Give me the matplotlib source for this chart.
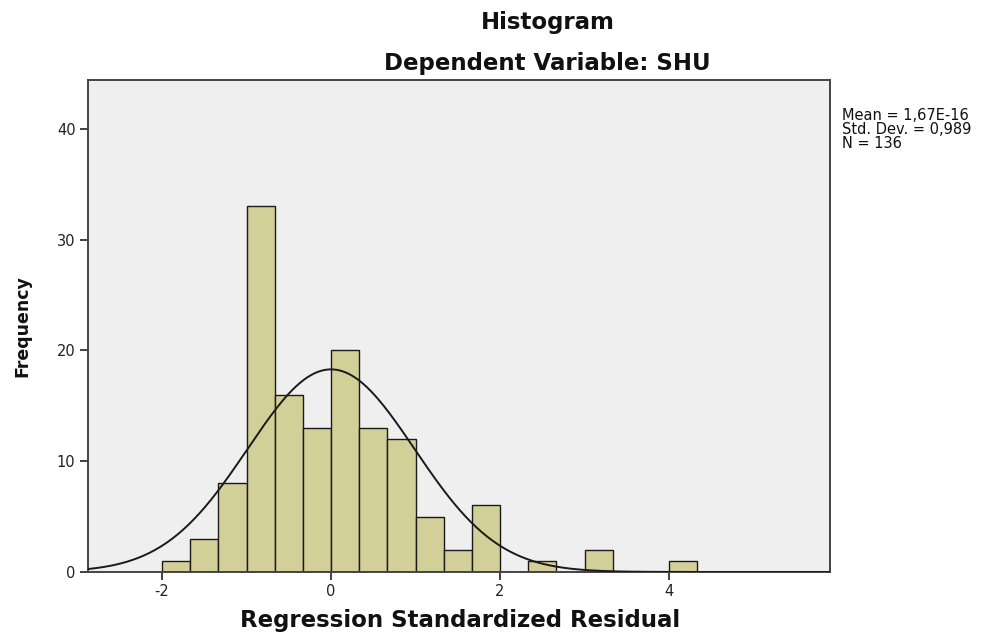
import numpy as np
import matplotlib.pyplot as plt

plt.rcParams["axes.unicode_minus"] = False

# histogram of regression standardized residuals (SPSS style)
bin_start = -2.0
bin_width = 1.0 / 3.0
counts = [1, 3, 8, 33, 16, 13, 20, 13, 12, 5, 2, 6, 0, 1, 0, 2, 0, 0, 1]

mean = 1.67e-16
std_dev = 0.989
n_obs = 136

x_ticks = [-2, 0, 2, 4]
y_ticks = [0, 10, 20, 30, 40]

bar_color = "#D3CF98"
bg_color = "#EFEFEF"

fig = plt.figure(figsize=(9.97, 6.33), dpi=100)
ax = fig.add_axes([0.0883, 0.0964, 0.7442, 0.7772])
ax.set_facecolor(bg_color)

lefts = bin_start + bin_width * np.arange(len(counts))
heights = np.array(counts)
keep = heights > 0
ax.bar(lefts[keep], heights[keep], width=bin_width, align="edge",
       color=bar_color, edgecolor="#1a1a1a", linewidth=1.0, zorder=2)

# fitted normal curve, scaled to counts
xs = np.linspace(-2.876, 5.905, 400)
pdf = np.exp(-0.5 * ((xs - mean) / std_dev) ** 2) / (std_dev * np.sqrt(2 * np.pi))
ax.plot(xs, n_obs * bin_width * pdf, color="#1a1a1a", linewidth=1.4, zorder=3)

ax.set_xlim(-2.876, 5.905)
ax.set_ylim(0, 44.4)
ax.set_xticks(x_ticks)
ax.set_yticks(y_ticks)
ax.tick_params(direction="out", length=6, width=1.3, color="#333333",
               labelsize=10.5, labelcolor="#222222", pad=3)
for sp in ax.spines.values():
    sp.set_color("#444444")
    sp.set_linewidth(1.4)

bold = dict(fontsize=16.5, fontweight="bold", family="DejaVu Sans", color="#111111")
fig.text(0.549, 0.964, "Histogram", ha="center", va="center", **bold)
fig.text(0.549, 0.900, "Dependent Variable: SHU", ha="center", va="center", **bold)
fig.text(0.461, 0.020, "Regression Standardized Residual", ha="center", va="center", **bold)
fig.text(0.022, 0.485, "Frequency", ha="center", va="center", rotation=90,
         fontsize=12.5, fontweight="bold", family="DejaVu Sans", color="#111111")

stats = ["Mean = 1,67E-16", "Std. Dev. = 0,989", "N = " + str(n_obs)]
for i, line in enumerate(stats):
    fig.text(0.845, 1 - (115 + 14 * i) / 633, line, ha="left", va="center",
             fontsize=10.5, color="#111111")

fig.savefig("out.png", dpi=100)
